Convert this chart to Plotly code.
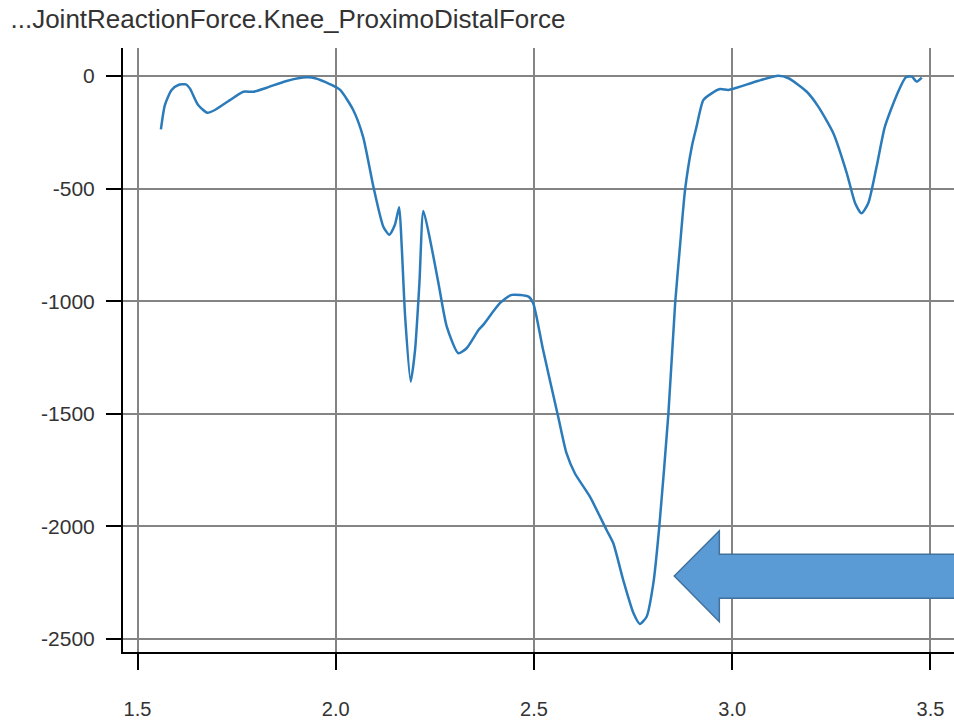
import plotly.graph_objects as go

# Time (s)
time_s = [1.559, 1.569, 1.586, 1.603, 1.622, 1.632, 1.653, 1.676, 1.695, 1.733,
          1.767, 1.792, 1.826, 1.876, 1.927, 1.948, 1.986, 2.011, 2.044, 2.069,
          2.095, 2.120, 2.135, 2.149, 2.160, 2.166, 2.175, 2.189, 2.200, 2.211,
          2.221, 2.238, 2.259, 2.280, 2.309, 2.330, 2.360, 2.372, 2.414, 2.444,
          2.486, 2.498, 2.523, 2.561, 2.582, 2.603, 2.641, 2.683, 2.700, 2.725,
          2.751, 2.767, 2.784, 2.801, 2.816, 2.839, 2.856, 2.868, 2.881, 2.898,
          2.910, 2.927, 2.948, 2.969, 2.990, 3.015, 3.066, 3.116, 3.142, 3.188,
          3.217, 3.255, 3.289, 3.310, 3.326, 3.343, 3.364, 3.385, 3.415, 3.438,
          3.453, 3.465, 3.478]

# Knee proximo-distal joint reaction force (N)
force = [-237, -129, -62, -40, -37, -55, -129, -163, -151, -107,
         -70, -70, -52, -22, -6, -10, -37, -62, -151, -270,
         -492, -669, -705, -662, -583, -743, -1069, -1357, -1217, -920,
         -599, -728, -920, -1113, -1231, -1209, -1128, -1105, -1009, -972,
         -980, -1009, -1217, -1513, -1675, -1764, -1868, -2016, -2075, -2238,
         -2386, -2433, -2401, -2253, -2001, -1498, -1009, -760, -506, -314,
         -225, -107, -77, -58, -62, -50, -21, 1, -10, -70,
         -136, -254, -432, -565, -610, -565, -403, -225, -84, -6,
         -3, -25, -7]

x_ticks = [1.5, 2.0, 2.5, 3.0, 3.5]
x_tick_labels = ["1.5", "2.0", "2.5", "3.0", "3.5"]
y_ticks = [0, -500, -1000, -1500, -2000, -2500]
y_tick_labels = ["0", "-500", "-1000", "-1500", "-2000", "-2500"]

title_text = "...JointReactionForce.Knee_ProximoDistalForce"

fig = go.Figure()
fig.add_trace(go.Scatter(
    x=time_s, y=force, mode="lines",
    line=dict(color="#2b7bba", width=2.5, shape="spline", smoothing=0.6),
    showlegend=False, hoverinfo="x+y",
))

font_family = "Liberation Sans, Arial, sans-serif"

fig.update_layout(
    width=954, height=721,
    margin=dict(l=123, r=0, t=48, b=69),
    paper_bgcolor="white", plot_bgcolor="white",
    font=dict(family=font_family, size=21, color="#333333"),
    title=dict(text=title_text, xref="container", yref="container",
               x=0.011, y=1 - 19 / 721, xanchor="left", yanchor="middle",
               font=dict(family=font_family, size=26, color="#333333")),
    xaxis=dict(
        range=[1.4634, 3.5593], tickvals=x_ticks, ticktext=x_tick_labels,
        tickfont=dict(size=20),
        showgrid=True, gridcolor="#848484", gridwidth=1.5,
        showline=True, linecolor="black", linewidth=2,
        ticks="outside", ticklen=16, tickwidth=1.5, tickcolor="black",
        ticklabelstandoff=22, zeroline=False,
    ),
    yaxis=dict(
        range=[-2557.7, 124.3], tickvals=y_ticks, ticktext=y_tick_labels,
        showgrid=True, gridcolor="#848484", gridwidth=1.5,
        showline=True, linecolor="black", linewidth=2,
        ticks="outside", ticklen=15, tickwidth=1.5, tickcolor="black",
        ticklabelstandoff=7, zeroline=False,
    ),
    shapes=[dict(
        type="path", xref="paper", yref="paper",
        path="M 0.6634,0.1258 L 0.7176,0.2008 L 0.7176,0.1618 L 1.01,0.1618 "
             "L 1.01,0.0889 L 0.7176,0.0889 L 0.7176,0.0502 Z",
        fillcolor="#5b9bd5", line=dict(color="#41719c", width=1.5),
        layer="above",
    )],
)

fig.write_html(
    "out.html",
    config={"displayModeBar": False},
    post_script="document.body.style.margin='0';document.body.style.overflow='hidden';",
)
